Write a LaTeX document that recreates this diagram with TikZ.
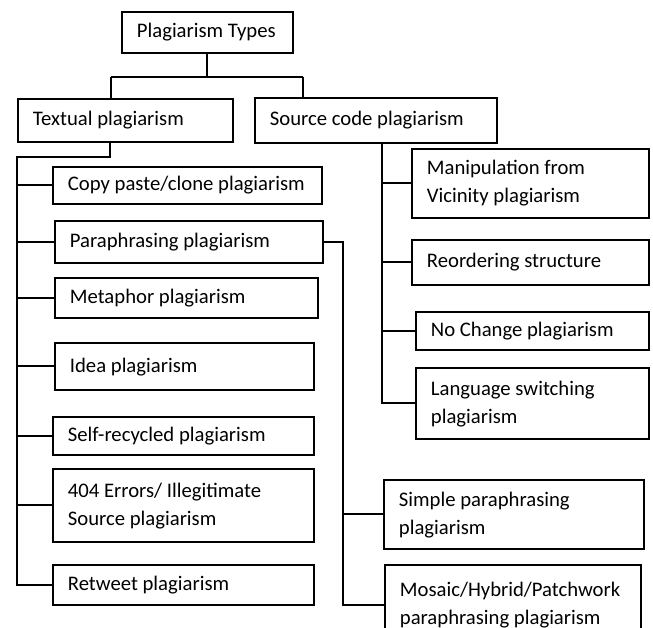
\documentclass[tikz,border=0pt]{standalone}
\usepackage{fontspec}
\setmainfont{Carlito}
\tikzset{
  box/.style={draw, line width=1.8pt, anchor=north west, inner xsep=15pt,
    inner ysep=0pt, font=\fontsize{20.7}{28}\selectfont},
  link/.style={line width=2pt},
}
% \bx{name}{x}{y}{text width}{height}{lines}: box with left-aligned lines
\newcommand\bx[6]{\node[box, minimum height=#5pt] (#1) at (#2,#3)
  {\makebox[#4pt][l]{\begin{tabular}{@{}l@{}}#6\end{tabular}}};}
\begin{document}
\begin{tikzpicture}[x=1pt,y=-1pt]
\useasboundingbox (0,0) rectangle (653,628);
\clip (0,0) rectangle (653,628);

% root and the two main branches
\bx{top}{121}{11}{141}{41}{Plagiarism Types}
\bx{tex}{17}{98}{185}{43}{Textual plagiarism}
\bx{src}{254}{97}{212}{45}{Source code plagiarism}

% textual plagiarism types
\bx{copy}{52}{166}{239}{37}{Copy paste/clone plagiarism}
\bx{para}{54}{220}{238}{42}{Paraphrasing plagiarism}
\bx{meta}{54}{277}{233}{40}{Metaphor plagiarism}
\bx{idea}{54}{342}{229}{47}{Idea plagiarism}
\bx{self}{52}{416}{231}{38}{Self-recycled plagiarism}
\bx{err}{52}{468}{231}{73}{404 Errors/ Illegitimate\\Source plagiarism}
\bx{ret}{52}{564}{231}{40}{Retweet plagiarism}

% source code plagiarism types
\bx{manip}{411}{148}{207}{69}{Manipulation from\\Vicinity plagiarism}
\bx{reord}{411}{239}{207}{45}{Reordering structure}
\bx{noch}{415}{311}{203}{38}{No Change plagiarism}
\bx{lang}{415}{367}{203}{71}{Language switching\\plagiarism}

% paraphrasing sub-types
\bx{simp}{383}{479}{230}{69}{Simple paraphrasing\\plagiarism}
\bx{mos}{384}{564}{226}{80}{Mosaic/Hybrid/Patchwork\\paraphrasing plagiarism}

% root connectors
\coordinate (tl) at (111,77);
\coordinate (tr) at (303,77);
\draw[link] (top.south) -- (top.south |- tl);
\draw[link] (tl) -- (tr);
\draw[link] (tl) -- (tl |- tex.north);
\draw[link] (tr) -- (tr |- src.north);

% textual spine
\coordinate (tb) at (110,157);
\coordinate (lsp) at (17,157);
\draw[link] (tb |- tex.south) -- (tb) -- (lsp) -- (lsp |- ret.west) -- (ret.west);
\foreach \n in {copy,para,meta,idea,self,err}
  \draw[link] (lsp |- \n.west) -- (\n.west);

% source code spine
\coordinate (ssp) at (382,142);
\draw[link] (ssp |- src.south) -- (ssp |- lang.west) -- (lang.west);
\foreach \n in {manip,reord,noch}
  \draw[link] (ssp |- \n.west) -- (\n.west);

% paraphrasing spine
\coordinate (psp) at (343,240);
\draw[link] (para.east) -- (psp |- para.east) -- (psp |- mos.west) -- (mos.west);
\draw[link] (psp |- simp.west) -- (simp.west);
\end{tikzpicture}
\end{document}
